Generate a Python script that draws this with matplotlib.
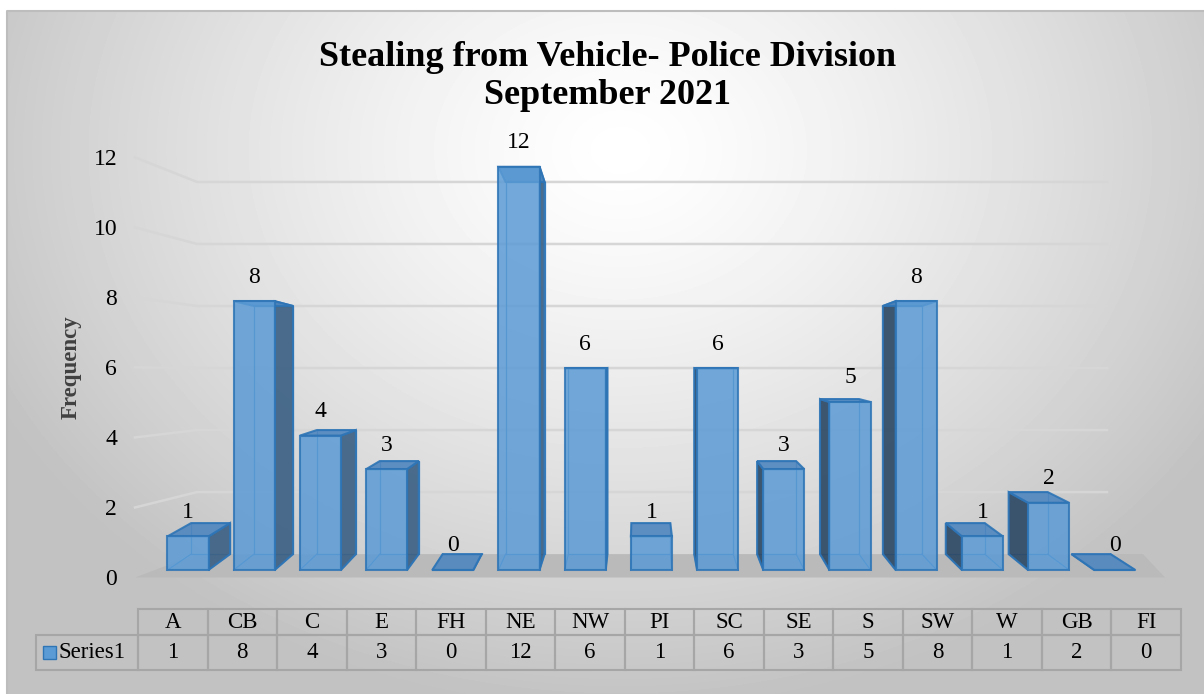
import numpy as np
import matplotlib.pyplot as plt
from matplotlib.patches import Polygon, Rectangle

categories = ['A', 'CB', 'C', 'E', 'FH', 'NE', 'NW', 'PI', 'SC', 'SE', 'S', 'SW', 'W', 'GB', 'FI']
frequency = [1, 8, 4, 3, 0, 12, 6, 1, 6, 3, 5, 8, 1, 2, 0]
y_ticks = [0, 2, 4, 6, 8, 10, 12]
series_name = 'Series1'
title = 'Stealing from Vehicle- Police Division\nSeptember 2021'
y_label = 'Frequency'

plt.rcParams['font.family'] = ['Liberation Serif', 'DejaVu Serif']

W, H = 1204, 694

# pixel calibration of the front plane: first bar centre, bar step, zero line, unit height
PX0, PX_STEP = 188, 66.2
PY0, PY_UNIT = 570, 33.6


def to_data_x(px):
    return (px - PX0) / PX_STEP


def to_data_y(py):
    return (PY0 - py) / PY_UNIT


# fake 3d: back plane shrinks towards the middle of the chart
CX = to_data_x(640)
SX = 0.95


def back_x(x):
    return CX + SX * (x - CX)


def back_y(v):
    return 0.473 + 0.923 * v


def wall_y(v):
    return -0.223 + 1.042 * v


fig = plt.figure(figsize=(W / 100, H / 100), dpi=100)

# background with radial gradient
bg = fig.add_axes([0, 0, 1, 1])
bg.set_xlim(0, W)
bg.set_ylim(H, 0)
bg.axis('off')
gx, gy = np.meshgrid(np.arange(W), np.arange(H))
r = np.sqrt(((gx - 620) / 700.0) ** 2 + ((gy - 150) / 560.0) ** 2)
shade = 1 - 0.24 * np.clip(r, 0, 1) ** 1.3
shade[gy < 11] = 1
shade[gx < 7] = 1
bg.imshow(shade, cmap='gray', vmin=0, vmax=1, extent=(0, W, H, 0), aspect='auto', zorder=0)
bg.plot([7, 7, W], [H, 11, 11], color='#bdbdbd', lw=1.5, zorder=1)

fig.text(608 / W, 1 - 76 / H, title, ha='center', va='center', fontsize=26,
         fontweight='bold', linespacing=1.2)
fig.text(71 / W, 1 - 367 / H, y_label, rotation=90, ha='center', va='center',
         fontsize=16.5, fontweight='bold', color='#404040')

# data table under the chart
tab_left, tab_x0, tab_x1 = 36, 138, 1181
row_top, row_mid, row_bot = 609, 635, 670
cw = (tab_x1 - tab_x0) / len(categories)
grid_col = '#a6a6a6'
bg.add_patch(Rectangle((tab_left, row_mid), tab_x0 - tab_left, row_bot - row_mid,
                       fill=False, edgecolor=grid_col, lw=1.5, zorder=2))
bg.add_patch(Rectangle((43, 646), 13, 13, facecolor='#5b9bd5', edgecolor='#2e75b6', lw=1, zorder=3))
bg.text(59, (row_mid + row_bot) / 2, series_name, ha='left', va='center', fontsize=16.5)
for j, (cat, val) in enumerate(zip(categories, frequency)):
    x0 = tab_x0 + j * cw
    bg.add_patch(Rectangle((x0, row_top), cw, row_mid - row_top, fill=False,
                           edgecolor=grid_col, lw=1.5, zorder=2))
    bg.add_patch(Rectangle((x0, row_mid), cw, row_bot - row_mid, fill=False,
                           edgecolor=grid_col, lw=1.5, zorder=2))
    bg.text(x0 + cw / 2, (row_top + row_mid) / 2 + 1, cat, ha='center', va='center', fontsize=16.5)
    bg.text(x0 + cw / 2, (row_mid + row_bot) / 2, str(val), ha='center', va='center', fontsize=16.5)

# main chart
ax = fig.add_axes([120 / W, 1 - 600 / H, 1070 / W, 475 / H])
ax.set_xlim(to_data_x(120), to_data_x(1190))
ax.set_ylim(to_data_y(600), to_data_y(125))
ax.patch.set_visible(False)
for s in ax.spines.values():
    s.set_visible(False)
ax.set_xticks([])
ax.set_yticks([wall_y(v) for v in y_ticks], [str(v) for v in y_ticks])
ax.tick_params(axis='y', length=0, pad=2, labelsize=17)

wall_front = to_data_x(135)
wall_back = to_data_x(197)
back_right = to_data_x(1107)

# floor
floor = [(wall_front, wall_y(0)), (to_data_x(1165), wall_y(0)),
         (to_data_x(1143), back_y(0)), (wall_back, back_y(0))]
ax.add_patch(Polygon(floor, closed=True, facecolor='#bababa', edgecolor='none', zorder=1))

# gridlines on the side and back walls
for v in y_ticks[1:]:
    ax.plot([wall_front, wall_back, back_right], [wall_y(v), back_y(v), back_y(v)],
            color='#d6d6d6', lw=1.8, zorder=1)

bw = 0.62
edge = '#2e75b6'
for i, v in enumerate(frequency):
    xl, xr = i - bw / 2, i + bw / 2
    bxl, bxr = back_x(xl), back_x(xr)
    b0, bt = back_y(0), back_y(v)
    # back edges seen through the front face
    ax.plot([bxl, bxr, bxr, bxl, bxl], [b0, b0, bt, bt, b0], color='#3d85c6', lw=0.9, zorder=3)
    ax.plot([xl, bxl], [0, b0], color='#3d85c6', lw=0.9, zorder=3)
    ax.plot([xr, bxr], [0, b0], color='#3d85c6', lw=0.9, zorder=3)
    if bxr > xr:
        ax.add_patch(Polygon([(xr, 0), (bxr, b0), (bxr, bt), (xr, v)], closed=True,
                             facecolor='#3d6184', alpha=0.92, edgecolor=edge, lw=1.5, zorder=4))
    if bxl < xl:
        ax.add_patch(Polygon([(xl, 0), (bxl, b0), (bxl, bt), (xl, v)], closed=True,
                             facecolor='#2e4a66', alpha=0.92, edgecolor=edge, lw=1.5, zorder=4))
    ax.add_patch(Polygon([(xl, v), (xr, v), (bxr, bt), (bxl, bt)], closed=True,
                         facecolor='#4f86bf', alpha=0.9, edgecolor=edge, lw=1.5, zorder=4))
    ax.text(i, v + 0.72, str(v), ha='center', va='center', fontsize=17, zorder=6)

ax.bar(range(len(frequency)), frequency, width=bw, color='#5b9bd5', alpha=0.85,
       edgecolor=edge, linewidth=1.5, zorder=5)

fig.savefig('out.png', dpi=100)
